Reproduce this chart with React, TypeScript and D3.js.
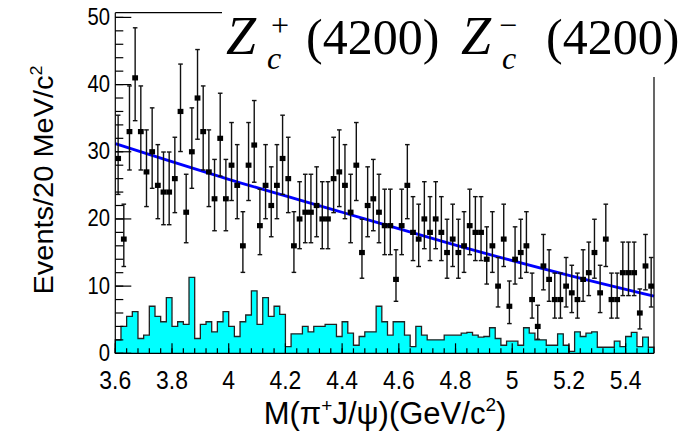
import React from "react";
import * as d3 from "d3";

// Binning of the pi+ J/psi invariant-mass spectrum (20 MeV bins)
const massLow = 3.6;
const massHigh = 5.5;
const binWidth = 0.02;

// Observed events per bin
const dataCounts = [
  29, 17, 33, 41, 33, 27, 30, 25, 24, 24, 26, 36, 21, 30, 38, 33, 27, 23, 32,
  23, 28, 25, 16, 28, 31, 19, 25, 22, 25, 29, 26, 16, 20, 21, 21, 22, 20, 20,
  26, 27, 25, 21, 28, 15, 22, 23, 21, 19, 19, 11, 19, 25, 18, 17, 20, 18, 20,
  18, 15, 17, 15, 16, 19, 18, 18, 14, 16, 10, 17, 7, 14, 15, 16, 8, 4, 13,
  11, 8, 8, 10, 9, 8, 11, 12, 15, 9, 17, 8, 8, 12, 12, 12, 6, 13, 10,
];

// Background estimate per bin (filled histogram)
const bkgCounts = [
  2.0, 4.0, 5.5, 6.2, 2.2, 2.7, 7.0, 5.5, 4.7, 8.3, 4.0, 4.7, 4.3, 11.3, 2.2,
  4.3, 4.7, 3.2, 4.7, 6.2, 4.0, 2.5, 4.7, 5.7, 9.3, 4.3, 8.3, 5.5, 7.0, 5.8,
  1.0, 2.9, 2.9, 4.0, 3.2, 4.0, 4.0, 4.3, 4.3, 2.5, 4.7, 3.0, 1.2, 2.5, 3.2,
  3.2, 7.0, 4.7, 2.7, 4.7, 4.7, 2.7, 1.0, 4.0, 2.7, 2.0, 2.0, 2.0, 2.7, 2.7,
  2.7, 3.0, 3.1, 2.7, 2.4, 2.5, 3.8, 2.2, 1.2, 1.8, 1.8, 1.2, 3.8, 3.0, 2.0,
  2.0, 1.2, 1.2, 2.9, 1.2, 0.3, 3.2, 2.5, 3.0, 3.2, 0.9, 0.9, 0.9, 1.8, 1.0,
  2.5, 3.1, 1.0, 2.4, 0.9,
];

// Fitted smooth curve, sampled at a few masses
const fitMass = [3.6, 4.0, 4.4, 4.8, 5.2, 5.5];
const fitValue = [31.2, 25.9, 21.0, 16.1, 11.6, 8.5];

const xTickValues = [3.6, 3.8, 4.0, 4.2, 4.4, 4.6, 4.8, 5.0, 5.2, 5.4];
const xTickLabels = ["3.6", "3.8", "4", "4.2", "4.4", "4.6", "4.8", "5", "5.2", "5.4"];
const yTickValues = [0, 10, 20, 30, 40, 50];
const yTickLabels = ["0", "10", "20", "30", "40", "50"];

const W = 690;
const H = 433;
const frame = { left: 115.3, right: 654, top: 12.7, bottom: 353.3 };

const x = d3.scaleLinear().domain([massLow, massHigh]).range([frame.left, frame.right]);
const y = d3.scaleLinear().domain([0, 50.7]).range([frame.bottom, frame.top]);

// Central 68% Poisson interval (Wilson-Hilferty form of the Garwood limits)
function poissonInterval(n: number): [number, number] {
  if (n === 0) return [0, 1.841];
  const lo = n * Math.pow(1 - 1 / (9 * n) - 1 / (3 * Math.sqrt(n)), 3);
  const m = n + 1;
  const hi = m * Math.pow(1 - 1 / (9 * m) + 1 / (3 * Math.sqrt(m)), 3);
  return [lo, hi];
}

const SANS = "'Liberation Sans', Arial, Helvetica, sans-serif";
const SERIF = "'Liberation Serif', 'Times New Roman', serif";

export default function App() {
  const nBins = dataCounts.length;
  const edges = d3.range(nBins + 1).map((i) => massLow + i * binWidth);

  // filled background histogram
  const stepPts: [number, number][] = bkgCounts.map((v, i) => [edges[i], v]);
  stepPts.push([edges[nBins], bkgCounts[nBins - 1]]);
  const area = d3
    .area<[number, number]>()
    .x((d) => x(d[0]))
    .y0(y(0))
    .y1((d) => y(d[1]))
    .curve(d3.curveStepAfter);

  // its outline, closed down to zero at both ends
  const stepOutline: [number, number][] = [[edges[0], 0]];
  bkgCounts.forEach((v, i) => {
    stepOutline.push([edges[i], v]);
    stepOutline.push([edges[i + 1], v]);
  });
  stepOutline.push([edges[nBins], 0]);
  const outline = d3
    .line<[number, number]>()
    .x((d) => x(d[0]))
    .y((d) => y(d[1]));

  const fitLine = d3
    .line<number>()
    .x((_, i) => x(fitMass[i]))
    .y((d) => y(d))
    .curve(d3.curveNatural);

  const xMinor = d3.range(0, 48).map((i) => massLow + i * 0.04).filter((v) => v <= massHigh + 1e-9);
  const yMinor = d3.range(0, 26).map((i) => i * 2);

  return (
    <svg width={W} height={H} style={{ position: "absolute", left: 0, top: 0, background: "#fff" }}>
      <rect x={0} y={0} width={W} height={H} fill="#fff" />

      {/* background histogram */}
      <path d={area(stepPts) || ""} fill="#00ffff" stroke="none" />
      <path d={outline(stepOutline) || ""} fill="none" stroke="#222" strokeWidth={1.3} />

      {/* fit */}
      <path d={fitLine(fitValue) || ""} fill="none" stroke="#0000ff" strokeWidth={2.8} />

      {/* data with Poisson error bars */}
      <g stroke="#111" strokeWidth={1.4}>
        {dataCounts.map((n, i) => {
          const cx = x(massLow + (i + 0.5) * binWidth);
          const [lo, hi] = poissonInterval(n);
          return (
            <g key={i}>
              <line x1={cx} x2={cx} y1={y(lo)} y2={y(hi)} />
              <line x1={cx - 2.3} x2={cx + 2.3} y1={y(lo)} y2={y(lo)} />
              <line x1={cx - 2.3} x2={cx + 2.3} y1={y(hi)} y2={y(hi)} />
            </g>
          );
        })}
      </g>
      <g fill="#000">
        {dataCounts.map((n, i) => {
          const cx = x(massLow + (i + 0.5) * binWidth);
          return <rect key={i} x={cx - 2.9} y={y(n) - 2.6} width={5.8} height={5.2} />;
        })}
      </g>

      {/* axes frame */}
      <g stroke="#000" strokeWidth={1.2} fill="none">
        <line x1={frame.left} x2={frame.left} y1={frame.top} y2={frame.bottom} />
        <line x1={frame.left} x2={frame.right} y1={frame.bottom} y2={frame.bottom} />
        <line x1={frame.left} x2={frame.right} y1={frame.top} y2={frame.top} />
        <line x1={frame.right} x2={frame.right} y1={frame.top} y2={frame.bottom} />
        {yTickValues.map((v) => (
          <line key={"ym" + v} x1={frame.left} x2={frame.left + 16} y1={y(v)} y2={y(v)} />
        ))}
        {yMinor.map((v) => (
          <line key={"yn" + v} x1={frame.left} x2={frame.left + 8} y1={y(v)} y2={y(v)} />
        ))}
        {xTickValues.map((v) => (
          <line key={"xm" + v} x1={x(v)} x2={x(v)} y1={frame.bottom} y2={frame.bottom - 10} />
        ))}
        {xMinor.map((v, i) => (
          <line key={"xn" + i} x1={x(v)} x2={x(v)} y1={frame.bottom} y2={frame.bottom - 5} />
        ))}
      </g>

      {/* tick labels */}
      <g fontFamily={SANS} fill="#000">
        {yTickValues.map((v, i) => (
          <g key={"yl" + v} transform={`translate(110,${y(v) + 7.5}) scale(0.88,1)`}>
            <text textAnchor="end" fontSize={23}>{yTickLabels[i]}</text>
          </g>
        ))}
        {xTickValues.map((v, i) => (
          <g key={"xl" + v} transform={`translate(${x(v)},${389}) scale(0.9,1)`}>
            <text textAnchor="middle" fontSize={25.5}>{xTickLabels[i]}</text>
          </g>
        ))}
      </g>

      {/* axis titles */}
      <g transform={`translate(385,424)`}>
        <text textAnchor="middle" fontFamily={SANS} fontSize={31} fill="#000">
          M(π<tspan fontSize={19} dy={-12}>+</tspan>
          <tspan dy={12}>J/ψ)(GeV/c</tspan>
          <tspan fontSize={19} dy={-13}>2</tspan>
          <tspan dy={13}>)</tspan>
        </text>
      </g>
      <g transform={`translate(53,180) rotate(-90) scale(1,0.95)`}>
        <text textAnchor="middle" fontFamily={SANS} fontSize={29} fill="#000">
          Events/20 MeV/c<tspan fontSize={18} dy={-12}>2</tspan>
        </text>
      </g>

      {/* title panel */}
      <rect x={222} y={0} width={W - 222} height={77} fill="#fff" />
      <text fontFamily={SERIF} fill="#000" fontSize={50}>
        <tspan x={226} y={54} fontSize={54} fontStyle="italic">Z</tspan>
        <tspan x={267} y={69} fontSize={32} fontStyle="italic">c</tspan>
        <tspan x={271} y={36} fontSize={32}>+</tspan>
        <tspan x={306} y={54}>(4200)</tspan>
        <tspan x={461} y={54} fontSize={54} fontStyle="italic">Z</tspan>
        <tspan x={502} y={69} fontSize={32} fontStyle="italic">c</tspan>
        <tspan x={499} y={36} fontSize={32}>−</tspan>
        <tspan x={546} y={54}>(4200)</tspan>
      </text>
    </svg>
  );
}
